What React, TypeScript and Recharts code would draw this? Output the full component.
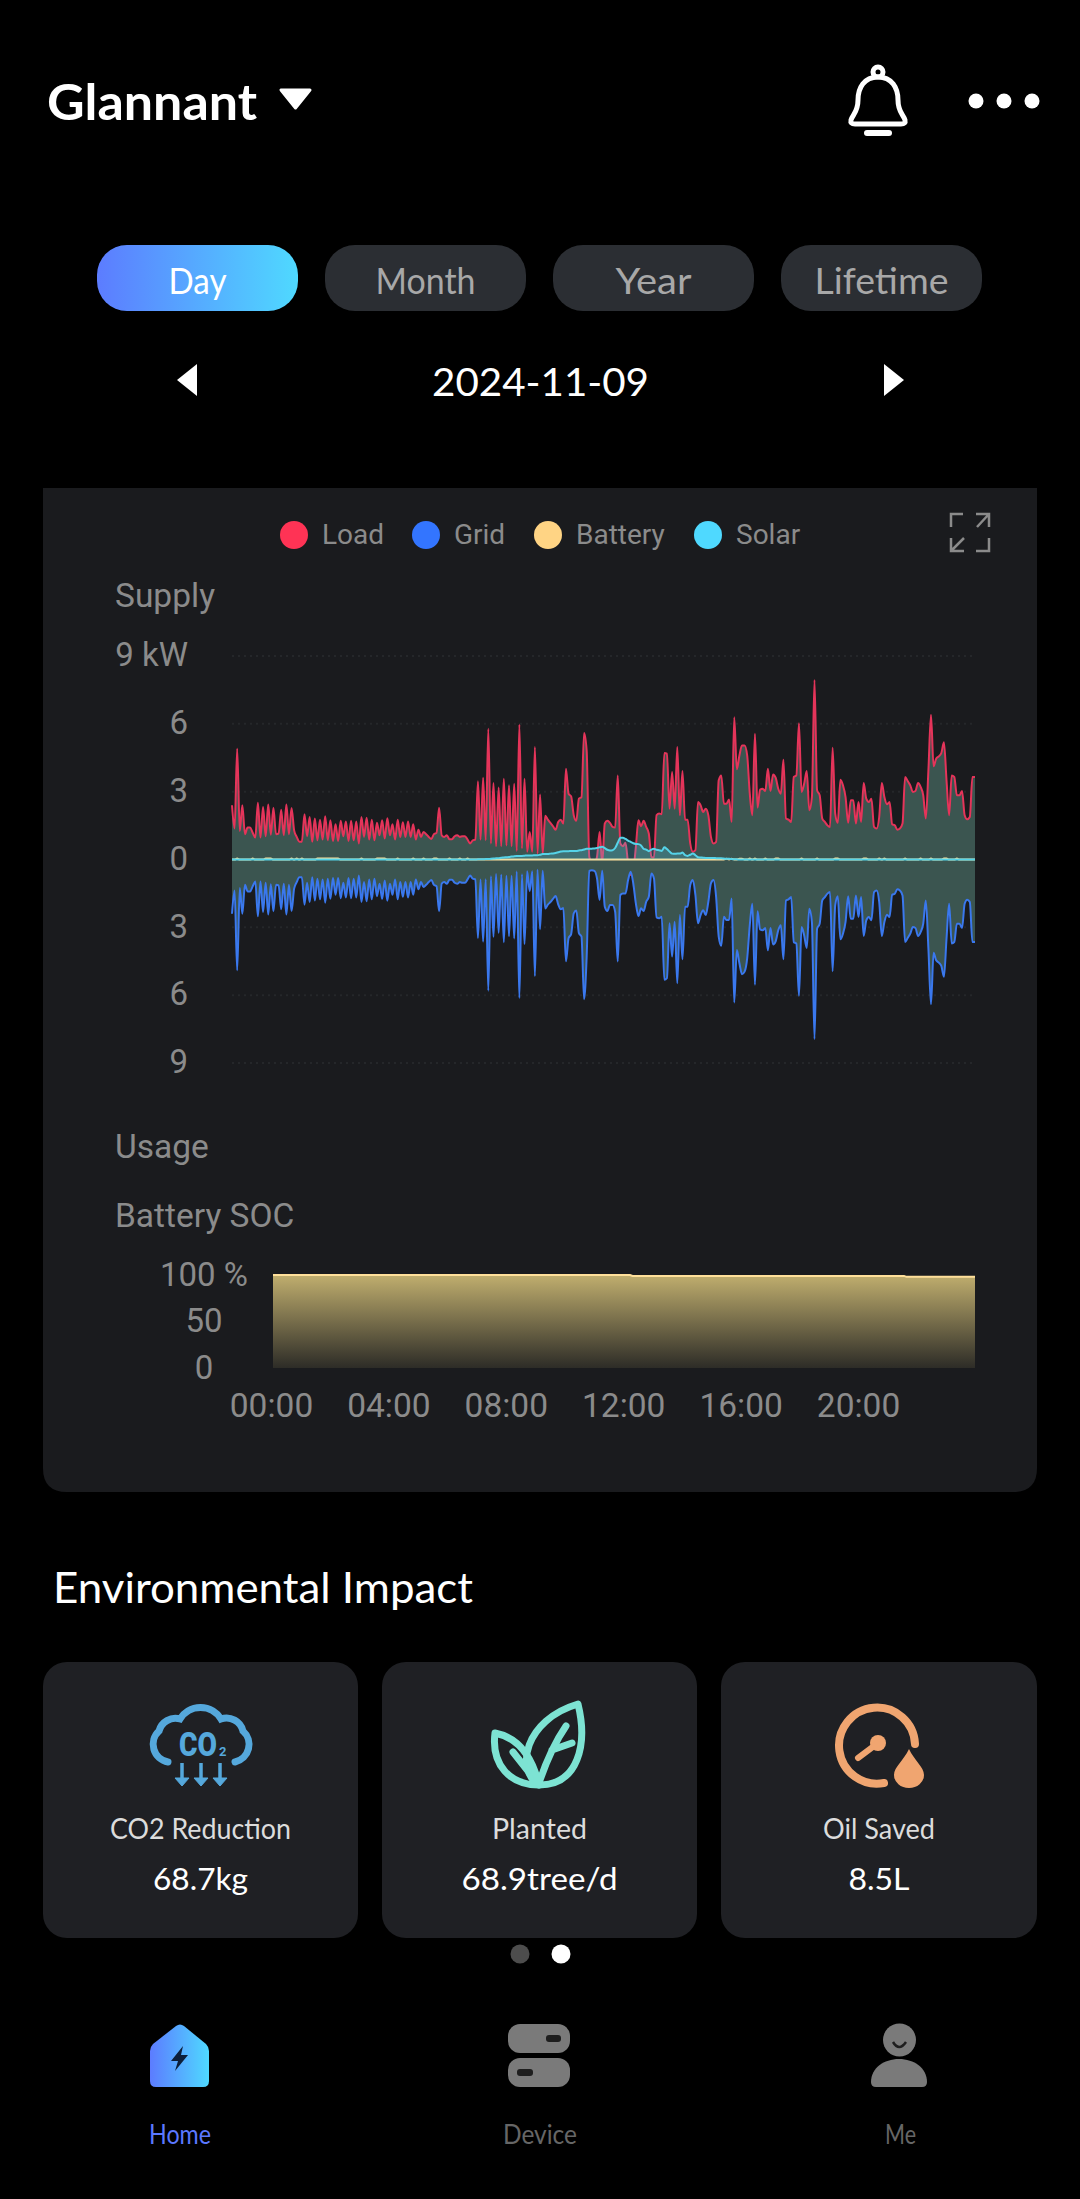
import React from 'react';
import { AreaChart, Area, XAxis, YAxis, CartesianGrid } from 'recharts';

// 5 minute samples, one row per hour
const loadKw = [
  2.4, 1.37, 4.9, 1.26, 2.4, 1.12, 1.41, 1.41, 1.18, .97, 2.51, .97,
  2.32, 1.03, 2.43, 1.1, 2.29, 1.12, 1.15, 2.2, 1.07, 2.43, 1.12, 2.28,
  1.29, 1.0, .79, .79, 2.0, 1.03, 1.88, .78, 1.81, .85, 1.76, .88,
  1.91, .85, 1.74, .82, 1.56, .82, 1.71, 1.03, 1.68, .82, 1.71, .85,
  1.68, .71, 1.88, 1.0, 1.85, .88, 1.76, .85, 1.62, 1.07, 1.74, .93,
  1.82, 1.07, 1.56, .88, 1.76, 1.0, 1.65, 1.0, 1.68, 1.0, 1.56, .88,
  1.32, 1.0, 1.22, 1.12, 1.0, .91, 1.12, 1.18, 2.29, 1.07, 1.0, 1.07,
  .9, .9, 1.03, 1.07, 1.0, 1.03, 1.03, .88, .71, .85, .88, 3.46,
  .88, 3.62, .85, 5.78, .71, 3.38, .59, 3.18, .59, 3.57, .62, 3.28,
  .59, 3.35, .38, 5.97, .49, 3.57, .34, 1.22, .34, 4.97, .26, 2.87,
  .26, 1.93, 1.76, 1.62, 1.47, 1.32, 1.66, 1.76, 1.59, 4.01, 2.91, 2.79,
  1.96, 1.71, 2.69, 2.76, 5.6, 4.82, .12, -.15, -.18, .12, 1.22, -.18,
  1.59, 1.71, 1.62, 1.44, 1.41, 3.72, .71, .59, .74, -.18, -.69, -.47,
  .56, 1.74, 1.47, 1.71, 1.44, 1.15, .12, .09, 1.96, 2.03, 2.0, 4.71,
  4.68, 2.25, 3.87, 2.25, 4.97, 1.96, 3.91, 1.76, 1.76, .71, .34, .41,
  2.54, 2.4, 2.1, 2.25, 1.96, 1.0, .71, .78, 3.5, 3.72, 2.47, 2.47,
  2.65, 1.66, 6.29, 3.99, 4.6, 5.04, 5.04, 4.6, 2.91, 1.96, 5.56, 2.29,
  3.09, 3.13, 3.03, 4.01, 3.03, 3.76, 3.62, 3.13, 2.91, 4.41, 1.81, 1.76,
  1.66, 3.65, 3.72, 6.03, 2.99, 3.35, 3.91, 2.18, 2.76, 7.94, 3.06, 2.84,
  1.81, 1.66, 1.51, 1.44, 4.94, 2.03, 1.62, 3.53, 3.28, 2.76, 1.62, 2.62,
  2.62, 1.59, 2.54, 1.66, 3.38, 2.69, 2.54, 2.69, 1.44, 1.37, 1.88, 3.38,
  2.76, 2.44, 2.54, 1.56, 1.51, 1.32, 1.37, 1.59, 3.65, 3.47, 3.28, 2.99,
  3.03, 3.38, 3.21, 2.84, 1.81, 3.94, 6.4, 4.12, 4.46, 4.56, 4.71, 5.19,
  3.5, 1.96, 3.71, 3.65, 2.84, 2.84, 3.03, 1.96, 1.78, 1.88, 3.65, 3.65,
];

const gridKw = [
  -2.4, -1.37, -4.9, -1.26, -2.4, -1.12, -1.41, -1.41, -1.18, -.97, -2.51, -.97,
  -2.32, -1.03, -2.43, -1.1, -2.29, -1.12, -1.15, -2.2, -1.07, -2.43, -1.12, -2.28,
  -1.29, -1.0, -.79, -.79, -2.0, -1.03, -1.88, -.78, -1.81, -.85, -1.76, -.88,
  -1.91, -.85, -1.74, -.82, -1.56, -.82, -1.71, -1.03, -1.68, -.82, -1.71, -.85,
  -1.68, -.71, -1.88, -1.0, -1.85, -.88, -1.76, -.85, -1.62, -1.07, -1.74, -.93,
  -1.82, -1.07, -1.56, -.88, -1.76, -1.0, -1.65, -1.0, -1.68, -1.0, -1.56, -.88,
  -1.32, -1.0, -1.22, -1.12, -1.0, -.91, -1.12, -1.18, -2.29, -1.07, -1.0, -1.07,
  -.9, -.9, -1.03, -1.07, -1.0, -1.03, -1.03, -.88, -.71, -.85, -.88, -3.47,
  -.89, -3.63, -.87, -5.8, -.74, -3.42, -.64, -3.24, -.67, -3.66, -.72, -3.39,
  -.72, -3.49, -.53, -6.13, -.65, -3.74, -.52, -1.4, -.52, -5.16, -.45, -3.08,
  -.5, -2.17, -2.0, -1.88, -1.74, -1.61, -1.98, -2.2, -2.15, -4.5, -3.48, -3.3,
  -2.38, -2.26, -3.26, -3.41, -6.18, -4.3, -.5, -.47, -.5, -.84, -1.79, -.5,
  -2.09, -2.28, -2.01, -2.01, -2.31, -4.51, -1.57, -1.5, -1.5, -.91, -.54, -1.06,
  -1.94, -2.5, -2.16, -2.28, -1.87, -1.65, -.62, -.84, -2.56, -2.6, -2.53, -5.32,
  -5.25, -2.82, -4.29, -2.75, -5.47, -2.46, -4.41, -2.09, -2.09, -1.13, -.91, -1.57,
  -2.82, -2.46, -2.24, -2.46, -1.87, -1.06, -.91, -1.65, -3.41, -3.82, -2.53, -2.68,
  -2.68, -1.72, -6.32, -4.0, -4.59, -5.07, -4.96, -4.37, -2.91, -1.96, -5.54, -2.29,
  -3.09, -3.13, -3.03, -4.01, -3.03, -3.76, -3.62, -3.13, -2.91, -4.41, -1.81, -1.76,
  -1.66, -3.65, -3.72, -6.03, -2.99, -3.35, -3.91, -2.18, -2.76, -7.94, -3.06, -2.84,
  -1.81, -1.66, -1.51, -1.44, -4.94, -2.03, -1.62, -3.53, -3.28, -2.76, -1.62, -2.62,
  -2.62, -1.59, -2.54, -1.66, -3.38, -2.69, -2.54, -2.69, -1.44, -1.37, -1.88, -3.38,
  -2.76, -2.44, -2.54, -1.56, -1.51, -1.32, -1.37, -1.59, -3.65, -3.47, -3.28, -2.99,
  -3.03, -3.38, -3.21, -2.84, -1.81, -3.94, -6.4, -4.12, -4.46, -4.56, -4.71, -5.19,
  -3.5, -1.96, -3.71, -3.65, -2.84, -2.84, -3.03, -1.96, -1.78, -1.88, -3.65, -3.65,
];

const solarKw = [
  0, 0, 0, 0, 0, 0, 0, 0, 0, 0, 0, 0,
  0, 0, 0, 0, 0, 0, 0, 0, 0, 0, 0, 0,
  0, 0, 0, 0, 0, 0, 0, 0, 0, 0, 0, 0,
  0, 0, 0, 0, 0, 0, 0, 0, 0, 0, 0, 0,
  0, 0, 0, 0, 0, 0, 0, 0, 0, 0, 0, 0,
  0, 0, 0, 0, 0, 0, 0, 0, 0, 0, 0, 0,
  0, 0, 0, 0, 0, 0, 0, 0, 0, 0, 0, 0,
  0, 0, 0, 0, 0, 0, 0, 0, 0, 0, 0, .01,
  .01, .01, .02, .02, .03, .04, .05, .06, .08, .09, .10, .11,
  .13, .14, .15, .16, .16, .17, .18, .18, .18, .19, .19, .21,
  .24, .24, .24, .26, .27, .29, .32, .35, .37, .37, .37, .38,
  .38, .38, .40, .41, .44, .47, .47, .48, .49, .51, .54, .56,
  .5, .43, .40, .41, .51, .74, .96, .96, .91, .84, .78, .72,
  .69, .68, .62, .47, .44, .37, .44, .47, .43, .41, .38, .54,
  .46, .35, .26, .25, .26, .26, .31, .19, .16, .21, .26, .19,
  .1, .09, .08, .07, .07, .07, .07, .06, .05, .05, .04, .03,
  .03, .02, .01, .01, 0, 0, 0, 0, 0, 0, 0, 0,
  0, 0, 0, 0, 0, 0, 0, 0, 0, 0, 0, 0,
  0, 0, 0, 0, 0, 0, 0, 0, 0, 0, 0, 0,
  0, 0, 0, 0, 0, 0, 0, 0, 0, 0, 0, 0,
  0, 0, 0, 0, 0, 0, 0, 0, 0, 0, 0, 0,
  0, 0, 0, 0, 0, 0, 0, 0, 0, 0, 0, 0,
  0, 0, 0, 0, 0, 0, 0, 0, 0, 0, 0, 0,
  0, 0, 0, 0, 0, 0, 0, 0, 0, 0, 0, 0,
];

const batteryKw = [
  0, 0, .04, 0, 0, 0, 0, 0, .04, 0, 0, 0,
  0, .04, .04, .04, 0, 0, 0, 0, 0, 0, 0, .04,
  0, .04, 0, .04, 0, 0, 0, 0, 0, .04, .04, .04,
  .04, .04, .04, .04, .04, .04, 0, 0, 0, 0, 0, 0,
  0, 0, .04, 0, 0, 0, 0, 0, .04, .04, .04, .04,
  0, 0, 0, 0, .04, 0, 0, 0, 0, 0, .04, 0,
  0, 0, .04, 0, 0, 0, .04, .04, 0, 0, 0, 0,
  .04, 0, 0, 0, .04, 0, 0, .04, 0, 0, 0, 0,
  0, 0, 0, 0, 0, 0, 0, 0, 0, 0, 0, 0,
  0, 0, 0, 0, 0, 0, 0, 0, 0, 0, 0, 0,
  0, 0, 0, 0, 0, 0, 0, 0, 0, 0, 0, 0,
  0, 0, 0, 0, 0, 0, 0, 0, 0, 0, 0, 0,
  0, 0, 0, 0, 0, 0, 0, 0, 0, 0, 0, 0,
  0, 0, 0, 0, 0, 0, 0, 0, 0, 0, 0, 0,
  0, 0, 0, 0, 0, 0, 0, 0, 0, 0, 0, 0,
  0, 0, 0, 0, 0, 0, 0, 0, 0, 0, 0, .03,
  0, .03, 0, 0, .03, .03, 0, 0, .04, 0, .04, 0,
  0, 0, .04, 0, 0, 0, .04, .04, 0, 0, 0, 0,
  0, 0, 0, 0, .04, 0, 0, 0, 0, 0, .04, 0,
  0, 0, 0, 0, 0, .04, .04, 0, 0, 0, 0, 0,
  0, 0, 0, 0, .04, .04, 0, 0, 0, 0, .04, 0,
  .04, 0, 0, 0, 0, 0, 0, 0, .04, 0, 0, 0,
  0, 0, .04, 0, 0, 0, .04, 0, 0, 0, 0, .04,
  .04, 0, 0, 0, .04, 0, 0, 0, 0, 0, 0, 0,
];

const supplyTicks = [-9, -6, -3, 0, 3, 6, 9];
const socMinutes = [0, 730, 735, 1290, 1295, 1435];
const socPercent = [100, 100, 99, 99, 98, 98];
const socTicks = [0, 50, 100];
const hourTicks = [0, 240, 480, 720, 960, 1200];

const legendNames = ['Load', 'Grid', 'Battery', 'Solar'];
const legendColors = ['#ff3355', '#3375ff', '#ffd484', '#4fd9ff'];
const legendDotX = [294, 426, 548, 708];

const pillNames = ['Day', 'Month', 'Year', 'Lifetime'];
const pillLeft = [97, 325, 553, 781];
const pillTextWidth = [58, 100, 76, 134];

const cardLeft = [43, 382, 721];
const cardWidth = [315, 315, 316];
const impactNames = ['CO2 Reduction', 'Planted', 'Oil Saved'];
const impactNameWidth = [181, 95, 112];
const impactValues = ['68.7kg', '68.9tree/d', '8.5L'];
const impactValueWidth = [95, 156, 61];

const supplyRows = loadKw.map((load, i) => ({
  t: i * 5,
  load,
  grid: gridKw[i],
  solar: solarKw[i],
  battery: batteryKw[i],
}));
const socRows = socMinutes.map((t, i) => ({ t, soc: socPercent[i] }));

const AXIS_COLOR = '#8b8b8b';
const HAND_FONT = 'Lato, "Noto Sans", sans-serif';
const CHART_FONT = 'Roboto, sans-serif';

const formatHour = (m: number) => `${String(m / 60).padStart(2, '0')}:00`;
const formatSupply = (v: number) => (v === 9 ? '9 kW' : String(Math.abs(v)));
const formatSoc = (v: number) => (v === 100 ? '100 %' : String(v));

const Hand = ({ x, y, w, size, color = '#fff', anchor = 'middle', weight = 400, children }: any) => (
  <text
    x={x}
    y={y}
    fill={color}
    fontFamily={HAND_FONT}
    fontSize={size}
    fontWeight={weight}
    textAnchor={anchor}
    dominantBaseline="central"
    textLength={w}
    lengthAdjust="spacingAndGlyphs"
  >
    {children}
  </text>
);

const Plain = ({ x, y, children, anchor = 'start', size = 33.5 }: any) => (
  <text
    x={x}
    y={y}
    fill={AXIS_COLOR}
    fontFamily={CHART_FONT}
    fontSize={size}
    textAnchor={anchor}
    dominantBaseline="central"
  >
    {children}
  </text>
);

const Backdrop = () => (
  <svg width={1080} height={2199} style={{ position: 'absolute', left: 0, top: 0 }}>
    <defs>
      <linearGradient id="accent" x1="0" y1="0" x2="1" y2="0">
        <stop offset="0%" stopColor="#5c7cff" />
        <stop offset="100%" stopColor="#4fd9ff" />
      </linearGradient>
    </defs>

    {/* header */}
    <Hand x={47} y={101} w={210} size={50} anchor="start" weight={700}>Glannant</Hand>
    <path d="M281 90 H310 L295.5 108 Z" fill="#fff" stroke="#fff" strokeWidth={3} strokeLinejoin="round" />
    <g fill="none" stroke="#fff" strokeWidth={5}>
      <circle cx={878} cy={72} r={5} />
      <path d="M878 77 C864 77 858 88 858 100 C858 112 853 114 851 120 Q850 124 855 124 H901 Q906 124 905 120 C903 114 898 112 898 100 C898 88 892 77 878 77 Z" />
    </g>
    <rect x={864} y={130} width={28} height={6} rx={3} fill="#fff" />
    {[976, 1004, 1032].map((cx) => (
      <circle key={cx} cx={cx} cy={101} r={7.5} fill="#fff" />
    ))}

    {/* period pills */}
    {pillNames.map((name, i) => (
      <g key={name}>
        <rect
          x={pillLeft[i]}
          y={245}
          width={201}
          height={66}
          rx={30}
          fill={i === 0 ? 'url(#accent)' : '#2b2e33'}
        />
        <Hand x={pillLeft[i] + 100.5} y={280} w={pillTextWidth[i]} size={36} color={i === 0 ? '#fff' : '#a8a8a8'}>
          {name}
        </Hand>
      </g>
    ))}
    <path d="M197 364 V396 L177 380 Z" fill="#fff" />
    <path d="M884 364 V396 L904 380 Z" fill="#fff" />
    <Hand x={540.5} y={381} w={217} size={38}>2024-11-09</Hand>

    {/* chart card */}
    <path d="M43 488 H1037 V1468 Q1037 1492 1013 1492 H67 Q43 1492 43 1468 Z" fill="#1a1b1e" />
    {legendNames.map((name, i) => (
      <g key={name}>
        <circle cx={legendDotX[i]} cy={535} r={14} fill={legendColors[i]} />
        <Plain x={legendDotX[i] + 28} y={534} size={28}>{name}</Plain>
      </g>
    ))}
    <g fill="none" stroke={AXIS_COLOR} strokeWidth={2.5}>
      <path d="M951 527 V514 H963" />
      <path d="M976 514 H989 V527 M989 514 L977 527" />
      <path d="M951 538 V551 H964 M951 551 L964 538" />
      <path d="M989 538 V551 H976" />
    </g>
    <Plain x={115} y={595}>Supply</Plain>
    <Plain x={115} y={1146}>Usage</Plain>
    <Plain x={115} y={1215}>Battery SOC</Plain>

    {/* environmental impact */}
    <Hand x={53} y={1587} w={420} size={42} anchor="start">Environmental Impact</Hand>
    {cardLeft.map((left, i) => (
      <g key={left}>
        <rect x={left} y={1662} width={cardWidth[i]} height={276} rx={24} fill="#1f2024" />
        <Hand x={left + cardWidth[i] / 2} y={1828} w={impactNameWidth[i]} size={28} color="#dcdcdc">
          {impactNames[i]}
        </Hand>
        <Hand x={left + cardWidth[i] / 2} y={1878} w={impactValueWidth[i]} size={31} weight={400}>
          {impactValues[i]}
        </Hand>
      </g>
    ))}

    {/* CO2 cloud */}
    <path
      d="M168 1762 A18 18 0 0 1 159 1731 A17 17 0 0 1 180 1719 A24 24 0 0 1 221 1719 A17 17 0 0 1 243 1731 A18 18 0 0 1 235 1762"
      fill="none"
      stroke="#55a8dc"
      strokeWidth={7}
      strokeLinecap="round"
    />
    <text x={179} y={1756} fill="#55a8dc" fontFamily={CHART_FONT} fontWeight={900} fontSize={34} textLength={38} lengthAdjust="spacingAndGlyphs">CO</text>
    <text x={219} y={1756} fill="#55a8dc" fontFamily={CHART_FONT} fontWeight={700} fontSize={13}>2</text>
    {[182, 201, 220].map((x) => (
      <g key={x} fill="#55a8dc" stroke="#55a8dc">
        <line x1={x} x2={x} y1={1763} y2={1778} strokeWidth={3.5} />
        <path d={`M${x - 7} 1778 H${x + 7} L${x} 1786 Z`} strokeWidth={1} />
      </g>
    ))}

    {/* leaves */}
    <g fill="none" stroke="#7de3d3" strokeWidth={7} strokeLinejoin="round" strokeLinecap="round">
      <path d="M539 1785 C515 1770 524 1720 578 1704 C588 1745 578 1785 539 1785 Z" />
      <path d="M495 1733 C520 1738 533 1760 539 1785 C510 1785 491 1765 495 1733 Z" />
      <path d="M539 1783 C546 1762 553 1745 566 1726 M552 1750 L572 1743 M513 1752 L528 1771" />
    </g>

    {/* oil gauge */}
    <path d="M915 1744 A38 38 0 1 0 884 1783" fill="none" stroke="#f0a570" strokeWidth={8} strokeLinecap="round" />
    <circle cx={878} cy={1743} r={8} fill="#f0a570" />
    <line x1={878} y1={1743} x2={858} y2={1758} stroke="#f0a570" strokeWidth={6} strokeLinecap="round" />
    <path d="M909 1749 C904 1760 894 1767 894 1775 A15 13 0 0 0 924 1775 C924 1767 914 1760 909 1749 Z" fill="#f0a570" />

    {/* pager */}
    <circle cx={520} cy={1954} r={9.5} fill="#4d4d4d" />
    <circle cx={561} cy={1954} r={9.5} fill="#fff" />

    {/* bottom nav */}
    <path d="M176 2026 Q180 2023 184 2026 L206 2044 Q209 2047 209 2051 V2081 Q209 2087 203 2087 H156 Q150 2087 150 2081 V2051 Q150 2047 153 2044 Z" fill="url(#accent)" />
    <path d="M183 2046 L171 2061 H178 L175 2071 L188 2055 H181 Z" fill="#0c1e3a" />
    <rect x={508} y={2024} width={62} height={29} rx={12} fill="#7a7a7a" />
    <rect x={508} y={2058} width={62} height={29} rx={12} fill="#7a7a7a" />
    <rect x={546} y={2035} width={15} height={7} rx={3} fill="#1e1e1e" />
    <rect x={517} y={2069} width={16} height={7} rx={3} fill="#1e1e1e" />
    <circle cx={899.5} cy={2040} r={16.5} fill="#7a7a7a" />
    <path d="M893 2042 Q899 2052 906 2042" fill="none" stroke="#1e1e1e" strokeWidth={2.5} />
    <path d="M871 2082 C871 2068 884 2059 899 2059 C914 2059 927 2068 927 2082 Q927 2087 922 2087 H876 Q871 2087 871 2082 Z" fill="#7a7a7a" />
    <Hand x={180} y={2134} w={62} size={26} color="#5b78ff">Home</Hand>
    <Hand x={540} y={2134} w={74} size={26} color="#666">Device</Hand>
    <Hand x={900.5} y={2134} w={31} size={26} color="#666">Me</Hand>
  </svg>
);

const SupplyChart = () => (
  <div style={{ position: 'absolute', left: 43, top: 620 }}>
    <AreaChart width={994} height={460} data={supplyRows} margin={{ top: 36, right: 62, bottom: 17, left: 0 }}>
      <CartesianGrid vertical={false} stroke="#25272a" strokeDasharray="2 4" strokeWidth={2} />
      <XAxis dataKey="t" type="number" domain={[0, 1435]} hide />
      <YAxis
        width={189}
        domain={[-9, 9]}
        ticks={supplyTicks}
        interval={0}
        tickFormatter={formatSupply}
        axisLine={false}
        tickLine={false}
        tickMargin={38}
        tick={{ fill: AXIS_COLOR, fontSize: 33, fontFamily: CHART_FONT, dy: -1.5 }}
      />
      <Area type="monotone" dataKey="load" stroke="#e5345a" strokeWidth={2} fill="#3b5550" fillOpacity={1} dot={false} activeDot={false} isAnimationActive={false} />
      <Area type="monotone" dataKey="grid" stroke="#3a78ee" strokeWidth={2} fill="#3b5550" fillOpacity={1} dot={false} activeDot={false} isAnimationActive={false} />
      <Area type="monotone" dataKey="battery" stroke="#ffe09a" strokeWidth={2} fill="none" dot={false} activeDot={false} isAnimationActive={false} />
      <Area type="monotone" dataKey="solar" stroke="#55d3e8" strokeWidth={2} fill="#4fd9ff" fillOpacity={0.22} dot={false} activeDot={false} isAnimationActive={false} />
    </AreaChart>
  </div>
);

const SocChart = () => (
  <div style={{ position: 'absolute', left: 43, top: 1240 }}>
    <AreaChart width={994} height={200} data={socRows} margin={{ top: 35, right: 62, bottom: 0, left: 0 }}>
      <defs>
        <linearGradient id="socFill" x1="0" y1="0" x2="0" y2="1">
          <stop offset="0%" stopColor="#c0ae6e" />
          <stop offset="100%" stopColor="#2d2c27" />
        </linearGradient>
      </defs>
      <XAxis
        dataKey="t"
        type="number"
        domain={[0, 1435]}
        ticks={hourTicks}
        interval={0}
        tickFormatter={formatHour}
        axisLine={false}
        tickLine={false}
        height={72}
        tickMargin={19}
        tick={{ fill: AXIS_COLOR, fontSize: 33.5, fontFamily: CHART_FONT, dx: -1.5 }}
      />
      <YAxis
        width={230}
        domain={[0, 100]}
        ticks={socTicks}
        interval={0}
        tickFormatter={formatSoc}
        axisLine={false}
        tickLine={false}
        tickMargin={63}
        tick={{ fill: AXIS_COLOR, fontSize: 33, fontFamily: CHART_FONT, textAnchor: 'middle', dy: -1 }}
      />
      <Area type="linear" dataKey="soc" stroke="#ffe09a" strokeWidth={2} fill="url(#socFill)" fillOpacity={1} dot={false} activeDot={false} isAnimationActive={false} />
    </AreaChart>
  </div>
);

export default function App() {
  return (
    <div style={{ position: 'absolute', left: 0, top: 0, width: 1080, height: 2199, background: '#000', overflow: 'hidden' }}>
      <Backdrop />
      <SupplyChart />
      <SocChart />
    </div>
  );
}
